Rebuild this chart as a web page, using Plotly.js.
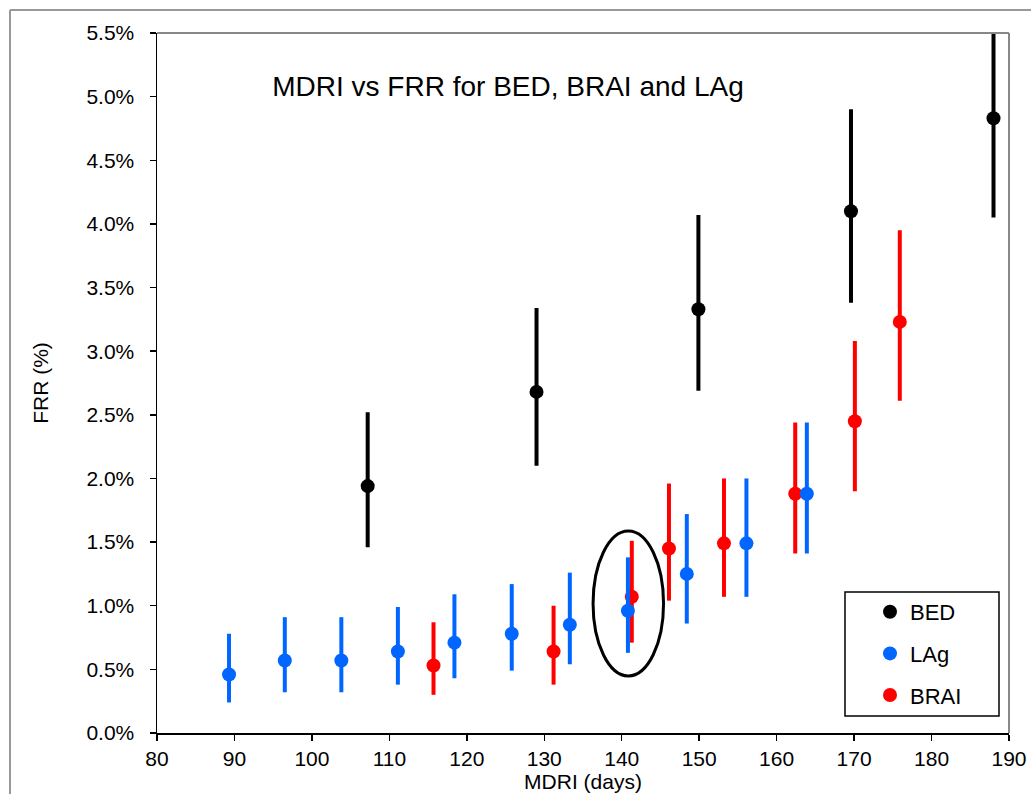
<!DOCTYPE html>
<html>
<head>
<meta charset="utf-8">
<script src="https://cdn.plot.ly/plotly-3.0.1.min.js"></script>
<style>html,body{margin:0;padding:0;background:#fff;}#chart{width:1031px;height:794px;}</style>
</head>
<body>
<div id="chart"></div>
<script>
// MDRI (days) and FRR (%) with interval limits
var bedX  = [107.2, 129.0, 149.9, 169.6, 188.0];
var bedY  = [1.94, 2.68, 3.33, 4.10, 4.83];
var bedHi = [2.52, 3.34, 4.07, 4.90, 5.61];
var bedLo = [1.46, 2.10, 2.69, 3.38, 4.05];

var lagX  = [89.3, 96.5, 103.8, 111.1, 118.4, 125.8, 133.3, 140.8, 148.4, 156.1, 163.9];
var lagY  = [0.46, 0.57, 0.57, 0.64, 0.71, 0.78, 0.85, 0.96, 1.25, 1.49, 1.88];
var lagHi = [0.78, 0.91, 0.91, 0.99, 1.09, 1.17, 1.26, 1.38, 1.72, 2.00, 2.44];
var lagLo = [0.24, 0.32, 0.32, 0.38, 0.43, 0.49, 0.54, 0.63, 0.86, 1.07, 1.41];

var braiX  = [115.7, 131.2, 141.3, 146.1, 153.2, 162.4, 170.1, 175.9];
var braiY  = [0.53, 0.64, 1.07, 1.45, 1.49, 1.88, 2.45, 3.23];
var braiHi = [0.87, 1.00, 1.51, 1.96, 2.00, 2.44, 3.08, 3.95];
var braiLo = [0.30, 0.38, 0.71, 1.04, 1.07, 1.41, 1.90, 2.61];

// highlighted region (ellipse) around MDRI ~141 days
var ringX = [136.3, 145.4];
var ringY = [0.448, 1.587];

var titleText = 'MDRI vs FRR for BED, BRAI and LAg';
var xTitle = 'MDRI (days)';
var yTitle = 'FRR (%)';

function plus(y, hi) { return hi.map(function (h, i) { return h - y[i]; }); }
function minus(y, lo) { return lo.map(function (l, i) { return y[i] - l; }); }

function series(name, x, y, hi, lo, color, rank) {
  return {
    type: 'scatter', mode: 'markers', name: name, x: x, y: y,
    legendgroup: name, legendrank: rank,
    marker: { color: color, size: 14, line: { width: 0 } },
    error_y: { type: 'data', symmetric: false, array: plus(y, hi), arrayminus: minus(y, lo),
               color: color, thickness: 4, width: 0 },
    hoverinfo: 'x+y+name'
  };
}

var traces = [
  series('BED', bedX, bedY, bedHi, bedLo, '#000000', 1),
  series('BRAI', braiX, braiY, braiHi, braiLo, '#ff0000', 3),
  series('LAg', lagX, lagY, lagHi, lagLo, '#0066ff', 2)
];

var F = 'Liberation Sans, Arial, sans-serif';
var layout = {
  width: 1031, height: 794,
  margin: { l: 157, r: 22, t: 33, b: 61, pad: 0 },
  paper_bgcolor: '#ffffff', plot_bgcolor: '#ffffff',
  font: { family: F, color: '#000000', size: 21 },
  showlegend: true,
  title: { text: titleText, font: { family: F, size: 28, color: '#000' },
           x: 508 / 1031, xanchor: 'center', xref: 'container',
           y: 1 - 86 / 794, yanchor: 'middle', yref: 'container' },
  xaxis: {
    range: [80, 190], dtick: 10, tick0: 80, showgrid: false, zeroline: false,
    showline: true, linecolor: '#000', linewidth: 1.5,
    ticks: 'outside', ticklen: 6, tickcolor: '#000', tickwidth: 1.5,
    tickfont: { family: F, size: 21 },
    title: { text: xTitle, font: { family: F, size: 21 }, standoff: 4 }
  },
  yaxis: {
    range: [0, 5.5], dtick: 0.5, tick0: 0, showgrid: false, zeroline: false,
    showline: true, linecolor: '#000', linewidth: 1.5,
    ticks: 'outside', ticklen: 6, tickcolor: '#000', tickwidth: 1.5,
    tickformat: '.1f', ticksuffix: '%', ticklabelstandoff: 11,
    tickfont: { family: F, size: 21 },
    title: { text: yTitle, font: { family: F, size: 21 }, standoff: 32 }
  },
  legend: {
    x: (870 - 157) / 852, xanchor: 'left', y: (733 - 591) / 700, yanchor: 'top',
    bgcolor: 'rgba(0,0,0,0)', borderwidth: 0, tracegroupgap: 10,
    font: { family: F, size: 22, color: '#000' }, itemclick: false
  },
  shapes: [
    // highlighted ellipse
    { type: 'circle', xref: 'x', yref: 'y', x0: ringX[0], x1: ringX[1], y0: ringY[0], y1: ringY[1],
      line: { color: '#000', width: 3 } },
    // plot-area top and right border (gray)
    { type: 'line', xref: 'paper', yref: 'paper', x0: 0, x1: 1, y0: 1, y1: 1, line: { color: '#888', width: 2 } },
    { type: 'line', xref: 'paper', yref: 'paper', x0: 1, x1: 1, y0: 0, y1: 1, line: { color: '#888', width: 2 } },
    // legend box
    { type: 'rect', xref: 'paper', yref: 'paper', x0: (845 - 157) / 852, x1: (999 - 157) / 852,
      y0: (733 - 716) / 700, y1: (733 - 592) / 700, line: { color: '#000', width: 1.5 }, fillcolor: '#fff', layer: 'below' },
    // outer chart frame (top and left)
    { type: 'line', xref: 'paper', yref: 'paper', x0: (10 - 157) / 852, x1: (1031 - 157) / 852,
      y0: (733 - 10) / 700, y1: (733 - 10) / 700, line: { color: '#999', width: 2 } },
    { type: 'line', xref: 'paper', yref: 'paper', x0: (10 - 157) / 852, x1: (10 - 157) / 852,
      y0: (733 - 10) / 700, y1: (733 - 794) / 700, line: { color: '#999', width: 2 } }
  ]
};

Plotly.newPlot('chart', traces, layout, { staticPlot: true, displayModeBar: false });
</script>
</body>
</html>
